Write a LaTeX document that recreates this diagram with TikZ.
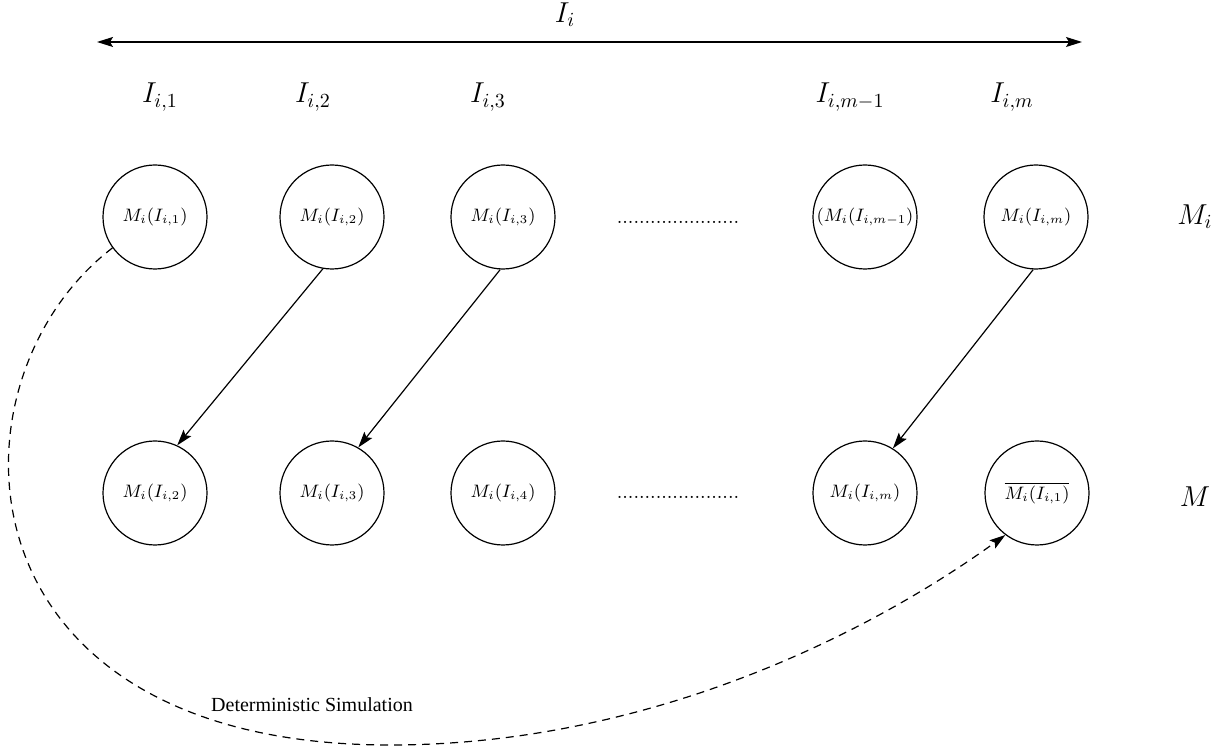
\documentclass[tikz,border=0pt]{standalone}
\usepackage{fontspec}
\newfontfamily\simfont{Liberation Serif}
\usetikzlibrary{arrows.meta}
\tikzset{
  machine/.style={draw,circle,minimum size=52pt,inner sep=0pt,font=\small},
  tip/.style={-{Stealth[length=8pt,width=5pt,inset=1.5pt]}},
  bothtips/.style={{Stealth[length=8pt,width=5pt,inset=1.5pt]}-{Stealth[length=8pt,width=5pt,inset=1.5pt]}},
  part/.style={font=\Large}
}
\begin{document}
\begin{tikzpicture}[x=0.5pt,y=-0.5pt,semithick]
  \useasboundingbox (0,0) rectangle (1226,747);
  % the interval and its parts
  \coordinate (ileft) at (97,42);
  \coordinate (iright) at (1082,42);
  \draw[bothtips] (ileft) -- (iright);
  \node[part] (ilab) at (565,15) {$I_i$};
  \node[part] (p1) at (160,97) {$I_{i,1}$};
  \node[part] (p2) at (313,97) {$I_{i,2}$};
  \node[part] (p3) at (488,97) {$I_{i,3}$};
  \node[part] (p4) at (850,97) {$I_{i,m-1}$};
  \node[part] (p5) at (1012,97) {$I_{i,m}$};
  % first row
  \node[machine] (t1) at (155,217) {$M_i(I_{i,1})$};
  \node[machine] (t2) at (332,217) {$M_i(I_{i,2})$};
  \node[machine] (t3) at (503,217) {$M_i(I_{i,3})$};
  \node (tdots) at (678,222) {......................};
  \node[machine] (t4) at (865,217) {$(M_i(I_{i,m-1})$};
  \node[machine] (t5) at (1036,217) {$M_i(I_{i,m})$};
  \node[part] (mi) at (1195,217) {$M_i$};
  % second row
  \node[machine] (b1) at (155,493) {$M_i(I_{i,2})$};
  \node[machine] (b2) at (332,493) {$M_i(I_{i,3})$};
  \node[machine] (b3) at (503,493) {$M_i(I_{i,4})$};
  \node (bdots) at (678,497) {......................};
  \node[machine] (b4) at (865,493) {$M_i(I_{i,m})$};
  \node[machine] (b5) at (1037,493) {$\overline{M_i(I_{i,1})}$};
  \node[part] (m) at (1195,497) {$M$};
  % transitions
  \draw[tip] (t2.-100) -- (b1.65);
  \draw[tip] (t3.-93) -- (b2.60);
  \draw[tip] (t5.-93) -- (b4.58);
  \draw[tip,dash pattern=on 4pt off 3pt] (t1.216) .. controls (-60,380) and (-50,745) .. (390,745)
    .. controls (640,745) and (860,640) .. (b5.233);
  \node[font=\simfont] (sim) at (312,705) {Deterministic Simulation};
\end{tikzpicture}
\end{document}
